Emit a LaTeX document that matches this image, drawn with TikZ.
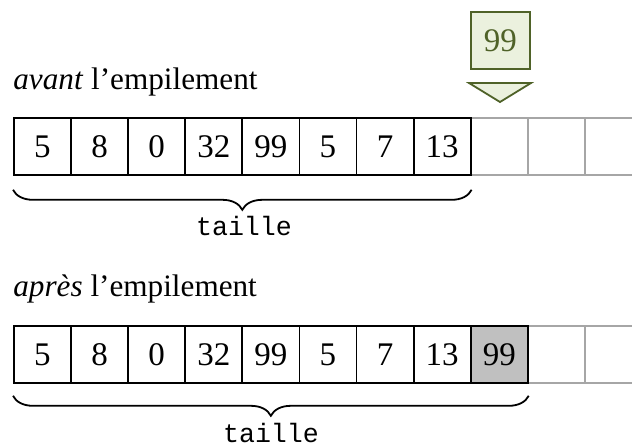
\documentclass[tikz,border=0pt]{standalone}
\usepackage{fontspec}
\setmainfont{Liberation Serif}
\setmonofont{Liberation Mono}
\usetikzlibrary{decorations.pathreplacing}
\definecolor{olivedark}{HTML}{4F6228}
\definecolor{olivelight}{HTML}{EBF1DE}
\definecolor{cellgray}{HTML}{A6A6A6}
\definecolor{topgray}{HTML}{C0C0C0}
\begin{document}
\begin{tikzpicture}[x=0.5pt,y=-0.5pt,
  cell/.style={draw=black,line width=0.9pt,rectangle,anchor=north west,
               minimum width=28.55pt,minimum height=28.5pt,inner sep=0pt,
               font=\fontsize{16.5}{19}\selectfont},
  freecell/.style={cell,draw=cellgray},
  newcell/.style={cell,fill=topgray},
  pushbox/.style={cell,draw=olivedark,fill=olivelight,text=olivedark,
                  minimum width=29.5pt},
  caption/.style={anchor=base west,inner sep=0pt,font=\fontsize{15.6}{19}\selectfont},
  sizebrace/.style={decorate,decoration={brace,mirror,amplitude=10pt},line width=0.9pt},
  sizelabel/.style={anchor=base,inner sep=0pt,font=\ttfamily\fontsize{13.3}{16}\selectfont}]
  \clip (0,0) rectangle (632,446);
  \fill[white] (0,0) rectangle (632,446);

  % pile avant l'empilement
  \node[caption] (capA) at (13,89) {\textit{avant} l'empilement};
  \foreach \i in {8,9,10} \node[freecell] (a\i) at (13+57.1*\i,117) {};
  \foreach \i/\v in {0/5,1/8,2/0,3/32,4/99,5/5,6/7,7/13}
    \node[cell] (a\i) at (13+57.1*\i,117) {\v};
  \node[pushbox] (push) at (470,11) {99};
  \coordinate (tl) at (469,83);
  \coordinate (tr) at (531,83);
  \coordinate (tip) at (500,102);
  \draw[olivedark,fill=olivelight,line width=0.9pt,line join=miter] (tl) -- (tr) -- (tip) -- cycle;
  \draw[sizebrace] ([yshift=-7pt]a0.south west) -- ([yshift=-7pt]a7.south east);
  \node[sizelabel] (sizeA) at (244,235) {taille};

  % pile apres l'empilement
  \node[caption] (capB) at (13,296) {\textit{après} l'empilement};
  \foreach \i in {9,10} \node[freecell] (b\i) at (13+57.1*\i,325) {};
  \foreach \i/\v in {0/5,1/8,2/0,3/32,4/99,5/5,6/7,7/13}
    \node[cell] (b\i) at (13+57.1*\i,325) {\v};
  \node[newcell] (b8) at (13+57.1*8,325) {99};
  \draw[sizebrace] ([yshift=-6pt]b0.south west) -- ([yshift=-6pt]b8.south east);
  \node[sizelabel] (sizeB) at (271,442) {taille};
\end{tikzpicture}
\end{document}
